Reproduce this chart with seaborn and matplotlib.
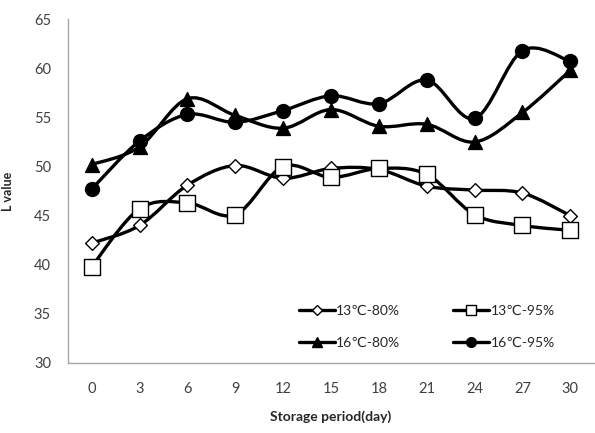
import numpy as np
import pandas as pd
import seaborn as sns
import matplotlib.pyplot as plt
from matplotlib.path import Path
from matplotlib.patches import PathPatch
from matplotlib.lines import Line2D

days = [0, 3, 6, 9, 12, 15, 18, 21, 24, 27, 30]
t13_80 = [42.2, 44.0, 48.1, 50.1, 48.8, 49.8, 49.7, 48.0, 47.6, 47.3, 45.0]
t13_95 = [39.8, 45.7, 46.3, 45.1, 50.0, 48.9, 49.8, 49.2, 45.1, 44.0, 43.5]
t16_80 = [50.2, 52.0, 56.9, 55.2, 53.9, 55.8, 54.1, 54.3, 52.5, 55.5, 59.8]
t16_95 = [47.7, 52.6, 55.3, 54.5, 55.7, 57.2, 56.4, 58.8, 54.9, 61.8, 60.7]
names = ["13\u2103-80%", "13\u2103-95%", "16\u2103-80%", "16\u2103-95%"]

sns.set_style("white")
plt.rcParams['font.family'] = ['Lato', 'DejaVu Sans']

fig = plt.figure(figsize=(5.95, 4.33), dpi=100)
ax = fig.add_axes([0.1138, 0.1617, 0.885, 0.794])

styles = [
    dict(marker="D", ms=7, mfc="white"),
    dict(marker="s", ms=11, mfc="white"),
    dict(marker="^", ms=10, mfc="black"),
    dict(marker="o", ms=10, mfc="black"),
]
series = [t13_80, t13_95, t16_80, t16_95]
pos = np.arange(len(days))


def smooth_path(x, y, k=1 / 6):
    # Excel-like smoothed line: Catmull-Rom turned into cubic Bezier segments
    pts = np.column_stack([x, y]).astype(float)
    verts = [pts[0]]
    codes = [Path.MOVETO]
    n = len(pts)
    for i in range(n - 1):
        p0 = pts[max(i - 1, 0)]
        p1 = pts[i]
        p2 = pts[i + 1]
        p3 = pts[min(i + 2, n - 1)]
        c1 = p1 + (p2 - p0) * k
        c2 = p2 - (p3 - p1) * k
        verts += [c1, c2, p2]
        codes += [Path.CURVE4] * 3
    return Path(verts, codes)


handles = []
for vals, name, st in zip(series, names, styles):
    df = pd.DataFrame({"pos": pos, "val": vals})
    ax.add_patch(PathPatch(smooth_path(pos, vals), fill=False, lw=2.4,
                           edgecolor="black", zorder=2))
    sns.scatterplot(data=df, x="pos", y="val", ax=ax, marker=st["marker"],
                    s=st["ms"] ** 2, color=st["mfc"], edgecolor="black",
                    linewidth=1.0, zorder=3, legend=False)
    handles.append(Line2D([0], [0], color="black", lw=2.4, marker=st["marker"],
                          ms=st["ms"] * 0.7, mfc=st["mfc"], mec="black", mew=1.0))

ax.set_xlim(-0.5, len(days) - 0.5)
ax.set_ylim(30, 65)
ax.set_yticks(np.arange(30, 66, 5))
ax.set_xticks(np.arange(-0.5, len(days), 1.0))
ax.set_xticklabels([])
ax.set_xticks(pos, minor=True)
ax.set_xticklabels([str(d) for d in days], minor=True)
ax.tick_params(axis="x", which="major", length=7, width=1, color="#a6a6a6", direction="out")
ax.tick_params(axis="x", which="minor", length=0, pad=14, labelsize=10.5, labelcolor="#404040")
ax.tick_params(axis="y", length=6, width=1, color="#a6a6a6", direction="out",
               labelsize=10.5, labelcolor="#404040", pad=6)
sns.despine(ax=ax)
for s in ["left", "bottom"]:
    ax.spines[s].set_color("#a6a6a6")
    ax.spines[s].set_linewidth(1)

ax.set_xlabel("Storage period(day)", fontsize=10, fontweight="bold", labelpad=10)
ax.set_ylabel("L value", fontsize=9, fontweight="bold", labelpad=14)

# legend fills by column, so order: 13-80, 16-80 | 13-95, 16-95
order = [0, 2, 1, 3]
ax.legend([handles[i] for i in order], [names[i] for i in order], ncol=2,
          frameon=False, loc="lower left", bbox_to_anchor=(0.415, 0.005),
          fontsize=10, handlelength=2.6, handletextpad=0.1, columnspacing=3.8,
          labelspacing=1.45)

fig.savefig("out.png", dpi=100)
